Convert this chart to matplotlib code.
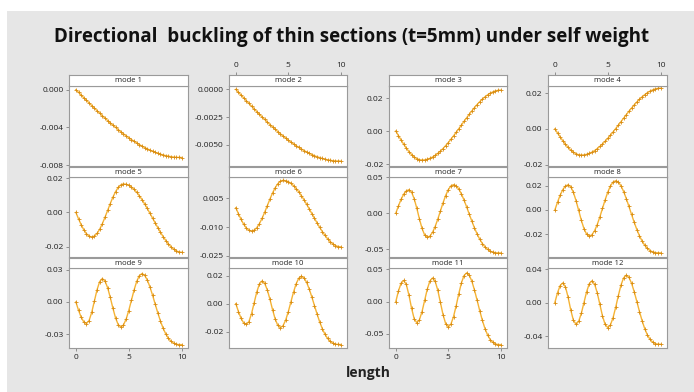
import numpy as np
import matplotlib as mpl
mpl.use('Agg')
import matplotlib.pyplot as plt
from matplotlib.patches import Rectangle

plt.rcParams['font.family'] = ['Open Sans', 'DejaVu Sans']

# displacement, in units of 1e-3, at length 0, 0.25, ... 10
length = np.linspace(0, 10, 41)

mode1 = [0, -0.28, -0.57, -0.85, -1.13, -1.40, -1.68, -1.95, -2.22, -2.49, -2.76,
         -3.01, -3.27, -3.52, -3.76, -4.00, -4.23, -4.46, -4.68, -4.89, -5.09,
         -5.29, -5.47, -5.65, -5.82, -5.99, -6.14, -6.28, -6.42, -6.54, -6.65,
         -6.76, -6.85, -6.93, -7.00, -7.06, -7.11, -7.15, -7.18, -7.19, -7.20]
mode2 = [0, -0.26, -0.51, -0.76, -1.02, -1.27, -1.52, -1.76, -2.01, -2.25, -2.49,
         -2.72, -2.95, -3.18, -3.40, -3.61, -3.82, -4.02, -4.22, -4.41, -4.60,
         -4.77, -4.94, -5.10, -5.26, -5.40, -5.54, -5.67, -5.79, -5.90, -6.01,
         -6.10, -6.18, -6.26, -6.32, -6.38, -6.42, -6.46, -6.48, -6.49, -6.50]
mode3 = [0, -2.75, -5.44, -7.99, -10.35, -12.45, -14.24, -15.68, -16.74, -17.38, -17.60,
         -17.48, -17.14, -16.56, -15.77, -14.76, -13.55, -12.16, -10.59, -8.86, -7.00,
         -5.02, -2.95, -0.81, 1.38, 3.60, 5.82, 8.01, 10.15, 12.22, 14.20,
         16.06, 17.79, 19.36, 20.75, 21.96, 22.97, 23.76, 24.34, 24.69, 24.80]
mode4 = [0, -2.28, -4.51, -6.63, -8.58, -10.32, -11.81, -13.01, -13.89, -14.42, -14.60,
         -14.50, -14.19, -13.69, -12.99, -12.10, -11.04, -9.81, -8.43, -6.91, -5.28,
         -3.54, -1.71, 0.17, 2.10, 4.05, 6.00, 7.93, 9.81, 11.64, 13.38,
         15.01, 16.53, 17.91, 19.14, 20.20, 21.09, 21.79, 22.29, 22.60, 22.70]
mode5 = [0, -3.70, -7.15, -10.11, -12.38, -13.81, -14.30,
         -13.77, -12.23, -9.78, -6.58, -2.85, 1.15, 5.15, 8.88, 12.08, 14.53, 16.07, 16.60,
         16.40, 15.79, 14.80, 13.44, 11.74, 9.73, 7.46, 4.97, 2.30, -0.47, -3.30,
         -6.13, -8.90, -11.57, -14.06, -16.33, -18.34, -20.04, -21.40, -22.39, -23.00, -23.20]
mode6 = [0, -3.13, -6.05, -8.56, -10.48, -11.69, -12.10,
         -11.65, -10.34, -8.25, -5.53, -2.35, 1.05, 4.45, 7.63, 10.35, 12.44, 13.75, 14.20,
         14.02, 13.50, 12.64, 11.46, 9.98, 8.25, 6.28, 4.12, 1.81, -0.60, -3.05,
         -5.50, -7.91, -10.22, -12.38, -14.35, -16.08, -17.56, -18.74, -19.60, -20.12, -20.30]
mode7 = [0, 10.04, 19.10, 26.29, 30.91, 32.50,
         29.23, 20.07, 6.85, -7.85, -21.07, -30.23, -33.50,
         -31.71, -26.53, -18.45, -8.28, 3.00, 14.28, 24.45, 32.53, 37.71, 39.50,
         37.93, 33.52, 26.78, 18.30, 8.77, -1.20, -11.06, -20.35, -28.73,
         -35.97, -41.93, -46.63, -50.10, -52.47, -53.92, -54.68, -54.96, -55.00]
mode8 = [0, 6.37, 12.11, 16.67, 19.59, 20.60,
         19.00, 14.45, 7.63, -0.40, -8.43, -15.25, -19.80, -21.40,
         -20.29, -17.07, -12.06, -5.75, 1.25, 8.25, 14.56, 19.57, 22.79, 23.90,
         22.81, 19.73, 15.09, 9.32, 2.91, -3.70, -10.10, -16.01, -21.19,
         -25.50, -28.93, -31.47, -33.23, -34.30, -34.86, -35.07, -35.10]
mode9 = [0, -7.69, -14.21, -18.57, -20.10,
         -17.29, -9.63, 0.85, 11.33, 18.99, 21.80,
         19.57, 13.31, 4.27, -5.77, -14.81, -21.07, -23.30,
         -21.41, -16.02, -7.96, 1.55, 11.06, 19.12, 24.51, 26.40,
         24.84, 20.50, 14.05, 6.29, -2.07, -10.30, -17.89, -24.47,
         -29.80, -33.84, -36.65, -38.40, -39.32, -39.65, -39.70]
mode10 = [0, -5.70, -10.54, -13.77, -14.90,
          -12.82, -7.15, 0.60, 8.35, 14.02, 16.10,
          14.45, 9.83, 3.16, -4.26, -10.93, -15.55, -17.20,
          -15.80, -11.83, -5.87, 1.15, 8.17, 14.13, 18.10, 19.50,
          18.35, 15.15, 10.40, 4.68, -1.48, -7.54, -13.13, -17.98,
          -21.91, -24.89, -26.95, -28.25, -28.92, -29.17, -29.20]
mode11 = [0, 16.40, 28.40, 32.80,
          26.54, 10.14, -10.14, -26.54, -32.80,
          -28.15, -15.45, 1.90, 19.25, 31.95, 36.60,
          31.53, 17.68, -1.25, -20.18, -34.03, -39.10,
          -34.97, -23.38, -6.64, 11.94, 28.68, 40.27, 44.40,
          40.94, 31.49, 17.86, 2.04, -14.10, -29.05, -41.77,
          -51.74, -58.82, -63.27, -65.61, -66.48, -66.60]
mode12 = [0, 11.70, 20.26, 23.40,
          18.69, 6.37, -8.87, -21.19, -25.90,
          -22.44, -12.98, -0.05, 12.88, 22.34, 25.80,
          22.07, 11.88, -2.05, -15.98, -26.17, -29.90,
          -26.81, -18.13, -5.61, 8.31, 20.83, 29.51, 32.60,
          30.03, 23.02, 12.90, 1.16, -10.82, -21.92, -31.37,
          -38.77, -44.02, -47.33, -49.07, -49.71, -49.80]

modes = [mode1, mode2, mode3, mode4, mode5, mode6,
         mode7, mode8, mode9, mode10, mode11, mode12]

# y ticks and tick labels of each panel
yticks = [[0.0, -0.004, -0.008], [0.0, -0.0025, -0.005], [0.02, 0.0, -0.02], [0.02, 0.0, -0.02],
          [0.02, 0.0, -0.02], [0.005, -0.010, -0.025], [0.05, 0.0, -0.05], [0.02, 0.0, -0.02],
          [0.03, 0.0, -0.03], [0.02, 0.0, -0.02], [0.05, 0.0, -0.05], [0.04, 0.0, -0.04]]
ylabels = [['0.000', '-0.004', '-0.008'], ['0.0000', '-0.0025', '-0.0050'],
           ['0.02', '0.00', '-0.02'], ['0.02', '0.00', '-0.02'],
           ['0.02', '0.00', '-0.02'], ['0.005', '-0.010', '-0.025'],
           ['0.05', '0.00', '-0.05'], ['0.02', '0.00', '-0.02'],
           ['0.03', '0.00', '-0.03'], ['0.02', '0.00', '-0.02'],
           ['0.05', '0.00', '-0.05'], ['0.04', '0.00', '-0.04']]
ylims = [(-0.0081, 0.00043), (-0.00694, 0.00034), (-0.0212, 0.0275), (-0.0207, 0.0241),
         (-0.0261, 0.0208), (-0.0257, 0.0161), (-0.061, 0.0505), (-0.0387, 0.0272),
         (-0.0431, 0.0316), (-0.0319, 0.0254), (-0.0723, 0.052), (-0.0546, 0.0412)]
xticks = [0, 5, 10]
xlim = (-0.65, 10.6)

W, H = 694, 392
fig = plt.figure(figsize=(W / 100, H / 100), dpi=100)
fig.patch.set_facecolor('white')
fig.patches.append(Rectangle((7 / W, 0), 1 - 7 / W, 1 - 11 / H, transform=fig.transFigure,
                             facecolor='#e6e6e6', edgecolor='none', zorder=-10))

def box(x0, x1, y0, y1):
    return [x0 / W, 1 - y1 / H, (x1 - x0) / W, (y1 - y0) / H]

cols = [(69, 188), (229, 347), (389, 507), (548, 667)]
rows = [(75, 85.7, 166), (167.3, 176.7, 257.3), (258, 268, 348.3)]
edge = '#9a9a9a'
tick_kw = dict(length=2.5, width=0.6, color='#808080', labelsize=6,
               labelcolor='#222222', pad=1.5)

for r, (st, pt, pb) in enumerate(rows):
    for c, (x0, x1) in enumerate(cols):
        i = r * 4 + c
        ax = fig.add_axes(box(x0, x1, pt, pb))
        ax.plot(length, np.array(modes[i]) * 1e-3, color='#f5b335', lw=1.0,
                marker='+', ms=3, mew=0.6, mec='#d98c10')
        ax.set_xlim(*xlim)
        ax.set_ylim(*ylims[i])
        ax.set_yticks(yticks[i])
        ax.set_yticklabels(ylabels[i])
        ax.set_xticks(xticks)
        ax.tick_params(**tick_kw)
        if not (c in (0, 2) and r == 2):
            ax.tick_params(axis='x', length=0, labelbottom=False)
        for s in ax.spines.values():
            s.set_color(edge)
            s.set_linewidth(0.8)

        sax = fig.add_axes(box(x0, x1, st, pt))
        sax.set_xlim(*xlim)
        sax.set_yticks([])
        if c in (1, 3) and r == 0:
            sax.set_xticks(xticks)
            sax.xaxis.tick_top()
            sax.tick_params(**tick_kw)
        else:
            sax.set_xticks([])
        for s in sax.spines.values():
            s.set_color(edge)
            s.set_linewidth(0.8)
        sax.text(0.5, 0.45, 'mode %d' % (i + 1), ha='center', va='center',
                 fontsize=5.5, color='#222222', transform=sax.transAxes)

fig.text(352 / W, 1 - 37 / H, 'Directional  buckling of thin sections (t=5mm) under self weight',
         ha='center', va='center', fontsize=13.5, fontweight='bold', color='#111111')
fig.text(368 / W, 1 - 373 / H, 'length', ha='center', va='center',
         fontsize=10, fontweight='bold', color='#222222')

fig.savefig('out.png', dpi=100)
